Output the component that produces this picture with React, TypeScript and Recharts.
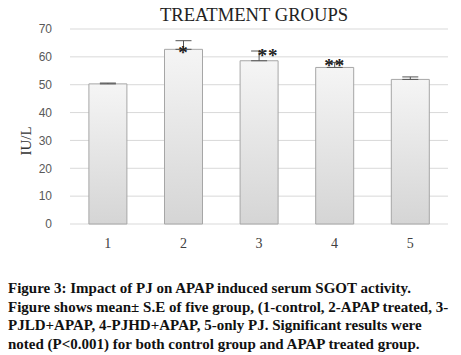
import React from "react";
import {
  BarChart,
  Bar,
  XAxis,
  YAxis,
  CartesianGrid,
  ErrorBar,
  LabelList,
} from "recharts";

const groups = ["1", "2", "3", "4", "5"];
const means = [50.3, 62.7, 58.6, 56.2, 51.9];
const stdErrors = [0.3, 3.1, 3.5, 1.8, 0.9];
const marks = ["", "*", "**", "**", ""];
const yTicks = [0, 10, 20, 30, 40, 50, 60, 70];

const captionLines = [
  "Figure 3: Impact of PJ on APAP induced serum SGOT activity.",
  "Figure shows mean\u00b1 S.E of five group, (1-control, 2-APAP treated, 3-",
  "PJLD+APAP, 4-PJHD+APAP, 5-only PJ. Significant results were",
  "noted (P<0.001) for both control group and APAP treated group.",
];

const data = groups.map((g, i) => ({
  group: g,
  value: means[i],
  err: [0, stdErrors[i]],
  mark: marks[i],
}));

const serif = "'Liberation Serif', 'Times New Roman', serif";

function StarLabel(props: any) {
  const { x, y, width, value, index } = props;
  if (!value) return null;
  // "**" for group 3 sits to the right of the error bar
  const dx = index === 2 ? 9 : 0;
  const dy = index === 1 ? 3 : index === 2 ? -5 : -2;
  return (
    <text
      x={x + width / 2 + dx}
      y={y + dy}
      textAnchor="middle"
      dominantBaseline="central"
      fontFamily={serif}
      fontSize={19}
      fontWeight="bold"
      fill="#222"
      letterSpacing={1}
    >
      {value}
    </text>
  );
}

export default function App() {
  return (
    <div
      style={{
        position: "absolute",
        left: 0,
        top: 0,
        width: 461,
        height: 355,
        background: "#fff",
        fontFamily: serif,
      }}
    >
      <div
        style={{
          position: "absolute",
          top: 4,
          left: 54,
          width: 400,
          textAlign: "center",
          fontSize: 18.6,
          lineHeight: "22px",
          color: "#222",
        }}
      >
        TREATMENT GROUPS
      </div>
      <div
        style={{
          position: "absolute",
          left: 26,
          top: 141,
          transform: "translate(-50%, -50%) rotate(-90deg)",
          fontSize: 15,
          color: "#333",
        }}
      >
        IU/L
      </div>
      <BarChart
        width={461}
        height={258}
        data={data}
        margin={{ top: 29, right: 13, left: 30, bottom: 4 }}
        barCategoryGap="25%"
        style={{ position: "absolute", left: 0, top: 0 }}
      >
        <defs>
          <linearGradient id="barFill" x1="0" y1="0" x2="0" y2="1">
            <stop offset="0%" stopColor="#f5f5f5" />
            <stop offset="100%" stopColor="#d5d5d5" />
          </linearGradient>
        </defs>
        <CartesianGrid vertical={false} stroke="#d9d9d9" />
        <XAxis
          dataKey="group"
          axisLine={false}
          tickLine={false}
          tick={{ fontFamily: serif, fontSize: 14, fill: "#404040" }}
          tickMargin={8}
          height={30}
        />
        <YAxis
          domain={[0, 70]}
          ticks={yTicks}
          axisLine={false}
          tickLine={false}
          width={40}
          tickMargin={12}
          tick={{ fontFamily: "'Liberation Sans', Arial, sans-serif", fontSize: 12, fill: "#595959" }}
        />
        <Bar
          dataKey="value"
          fill="url(#barFill)"
          stroke="#a6a6a6"
          strokeWidth={1}
          isAnimationActive={false}
        >
          <ErrorBar
            dataKey="err"
            direction="y"
            width={8}
            stroke="#555"
            strokeWidth={1}
          />
          <LabelList dataKey="mark" content={<StarLabel />} />
        </Bar>
      </BarChart>
      <div
        style={{
          position: "absolute",
          left: 8,
          top: 279,
          width: 455,
          fontWeight: "bold",
          fontSize: 15,
          lineHeight: "18.7px",
          color: "#111",
          whiteSpace: "nowrap",
        }}
      >
        {captionLines.map((l) => (
          <div key={l}>{l}</div>
        ))}
      </div>
    </div>
  );
}
